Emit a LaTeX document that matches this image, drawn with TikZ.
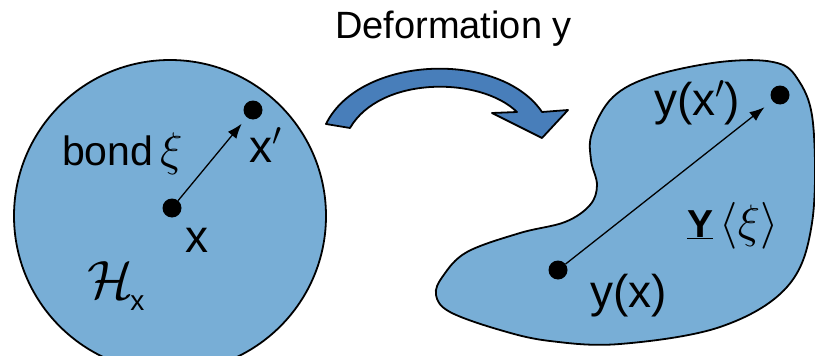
\RequirePackage{fix-cm}
\documentclass[tikz,border=0pt]{standalone}
\usepackage{fontspec}
\setmainfont{Liberation Sans}
\usetikzlibrary{arrows.meta}
\definecolor{regionblue}{RGB}{120,174,214}
\definecolor{arrowblue}{RGB}{72,126,186}
\begin{document}
\begin{tikzpicture}[x=1pt,y=-1pt,
  region/.style={draw=black,line width=1.8pt,fill=regionblue},
  bigarrow/.style={draw=black,line width=1.8pt,fill=arrowblue,line join=round},
  dot/.style={circle,fill=black,inner sep=0pt,minimum size=19pt},
  bondarrow/.style={line width=1.3pt,-{Latex[length=15pt,width=11pt]}},
  lbl/.style={inner sep=0pt,anchor=base west}]
\useasboundingbox (0,0) rectangle (815,356);
\begin{scope}
\clip (0,0) rectangle (815,356);
\draw[region] (170,216) circle[radius=156pt];
\end{scope}
\draw[region] plot[smooth cycle,tension=0.6] coordinates {
 (520,233) (467,252) (443,276) (436,295) (450,312) (500,330) (550,341)
 (620,344) (720,327) (787,287) (812,223) (813,123) (797,78) (773,62)
 (720,62) (653,76) (613,97) (592,133) (591,160) (597,185) (590,205) (565,222)};
\draw[bigarrow] (326,124) .. controls (360,55) and (500,50) .. (542,112)
  -- (568,110) -- (542,138) -- (492,113) -- (517,112)
  .. controls (480,76) and (380,76) .. (350,128) -- cycle;
% left
\node[dot] (x) at (172,208) {};
\node[dot] (xp) at (253,110) {};
\draw[bondarrow,shorten >=8pt] (x) -- (xp);
\node[lbl] (bond) at (62,165) {\fontsize{41}{48}\selectfont bond\,\scalebox{1.15}{$\xi$}};
\node[lbl] (xl) at (185,252) {\fontsize{46}{52}\selectfont x};
\node[lbl] (xpl) at (249,162) {\fontsize{46}{52}\selectfont x$'$};
\node[lbl] (H) at (87,298) {\fontsize{40}{48}\selectfont\scalebox{1.35}{$\mathcal{H}$}\kern-3pt\raisebox{-12pt}{\fontsize{28}{30}\selectfont x}};
% right
\node[dot] (yx) at (558,270) {};
\node[dot] (yxp) at (780,95) {};
\draw[bondarrow,shorten >=10pt] (yx) -- (yxp);
\node[lbl] (yxpl) at (654,115) {\fontsize{46}{52}\selectfont y(x$'$)};
\node[lbl] (yxl) at (590,307) {\fontsize{46}{52}\selectfont y(x)};
\node[lbl] (Y) at (687,237) {\fontsize{39}{46}\selectfont \underline{\textbf{Y}}\,\scalebox{1.2}{$\langle\xi\rangle$}};
% title
\node[lbl] (title) at (335,38) {\fontsize{38}{44}\selectfont Deformation y};
\end{tikzpicture}
\end{document}
